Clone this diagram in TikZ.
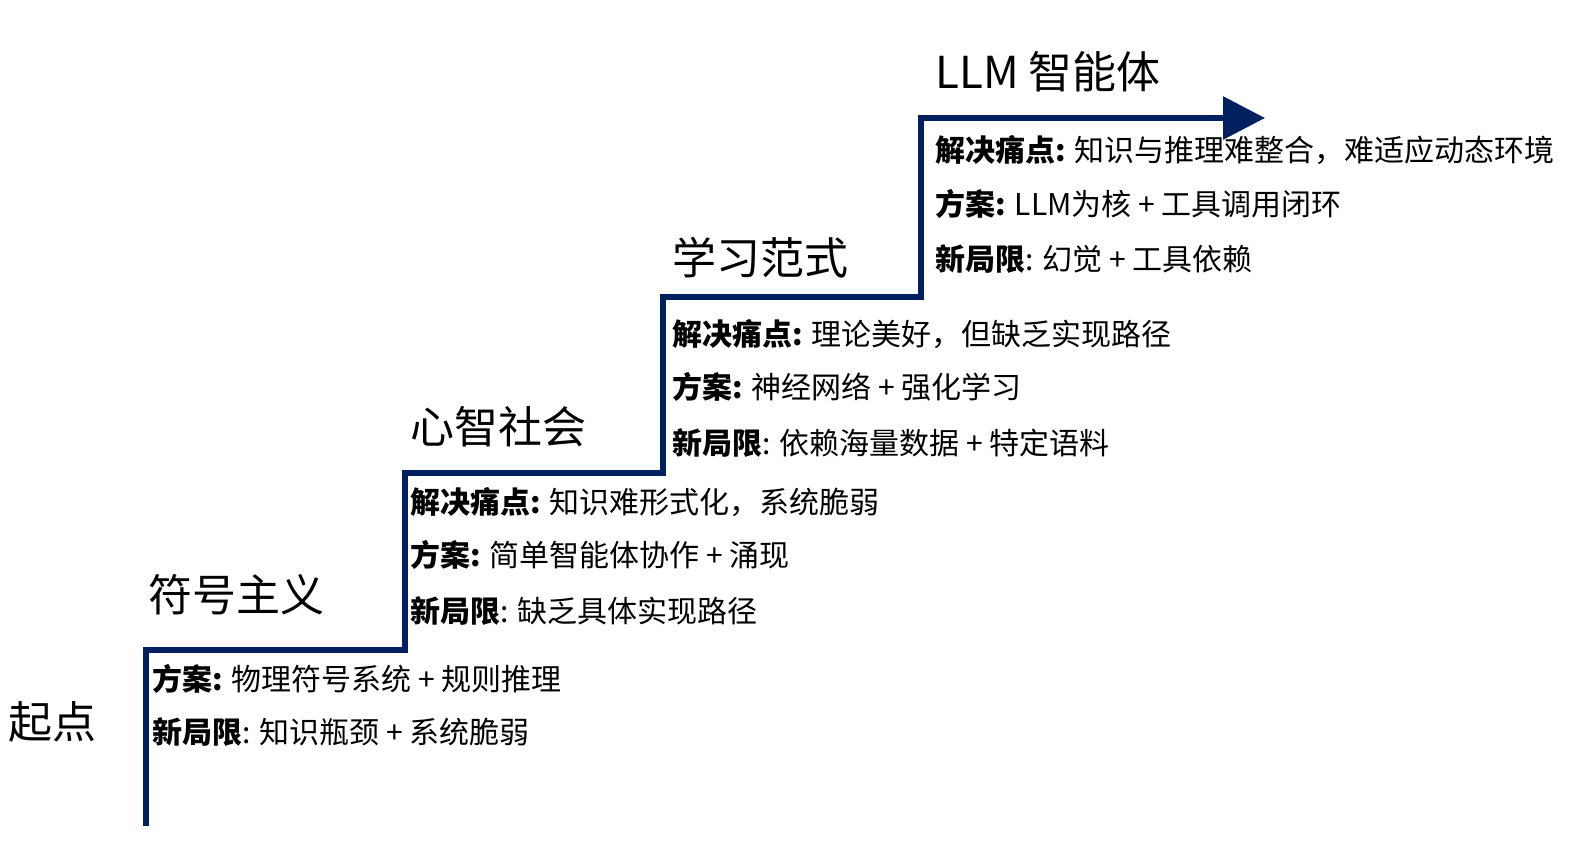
\documentclass[tikz,border=0pt]{standalone}
\usepackage{fontspec}
\setmainfont{Noto Sans CJK SC}
\usetikzlibrary{arrows.meta}
\definecolor{stairblue}{HTML}{002060}

\begin{document}
\begin{tikzpicture}[x=0.5pt, y=-0.5pt,
  every node/.style={inner sep=0pt, anchor=west},
  stage/.style={font=\fontsize{22}{26}\selectfont},
  item/.style={font=\fontsize{15}{18}\selectfont},
  stair/.style={draw=stairblue, line width=3pt, line join=miter},
  arrow/.style={-{Triangle[length=21pt, width=21pt]}}
]
  \useasboundingbox (0,0) rectangle (1570,855);

  % stair corners
  \coordinate (s0) at (146,826);
  \coordinate (s1) at (146,650);
  \coordinate (s2) at (405,650);
  \coordinate (s3) at (405,473);
  \coordinate (s4) at (663,473);
  \coordinate (s5) at (663,297);
  \coordinate (s6) at (921,297);
  \coordinate (s7) at (921,118);
  \coordinate (s8) at (1265,118);

  \draw[stair, arrow] (s0) -- (s1) -- (s2) -- (s3) -- (s4) -- (s5) -- (s6) -- (s7) -- (s8);

  % stage titles
  \node[stage] (start) at (8,722) {起点};
  \node[stage] (symb) at (148,595) {符号主义};
  \node[stage] (mind) at (410,427) {心智社会};
  \node[stage] (learn) at (672,258) {学习范式};
  \node[stage] (llm) at (935,72) {LLM 智能体};

  % stage 1
  \node[item] (symbSol) at (152,679) {\textbf{方案:} 物理符号系统 + 规则推理};
  \node[item] (symbLim) at (152,732) {\textbf{新局限}: 知识瓶颈 + 系统脆弱};

  % stage 2
  \node[item] (mindPain) at (410,502) {\textbf{解决痛点:} 知识难形式化，系统脆弱};
  \node[item] (mindSol) at (410,555) {\textbf{方案:} 简单智能体协作 + 涌现};
  \node[item] (mindLim) at (410,611) {\textbf{新局限}: 缺乏具体实现路径};

  % stage 3
  \node[item] (learnPain) at (672,334) {\textbf{解决痛点:} 理论美好，但缺乏实现路径};
  \node[item] (learnSol) at (672,387) {\textbf{方案:} 神经网络 + 强化学习};
  \node[item] (learnLim) at (672,443) {\textbf{新局限}: 依赖海量数据 + 特定语料};

  % stage 4
  \node[item] (llmPain) at (935,150) {\textbf{解决痛点:} 知识与推理难整合，难适应动态环境};
  \node[item] (llmSol) at (935,204) {\textbf{方案:} LLM为核 + 工具调用闭环};
  \node[item] (llmLim) at (935,259) {\textbf{新局限}: 幻觉 + 工具依赖};
\end{tikzpicture}
\end{document}
